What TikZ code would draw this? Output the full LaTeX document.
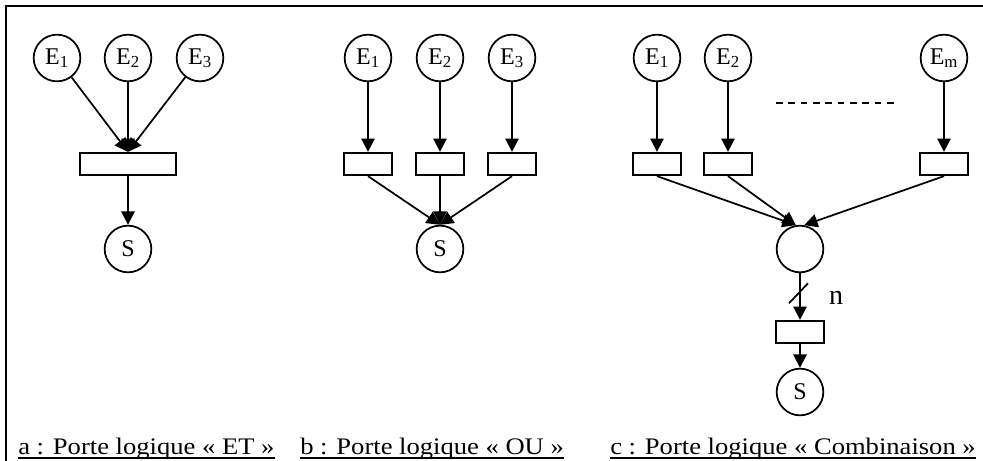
\documentclass[tikz,border=0pt]{standalone}
\usepackage{fontspec}
\setmainfont{Liberation Serif}
\newfontfamily\legende{Liberation Serif}[FakeStretch=1.12]
\usetikzlibrary{arrows.meta,calc}

\begin{document}
\begin{tikzpicture}[x=0.75pt,y=-0.75pt,
        etat/.style={draw,circle,line width=1.3pt,minimum size=35pt,inner sep=0pt,font=\fontsize{18}{21}\selectfont},
        porte/.style={draw,rectangle,line width=1.3pt,minimum width=35.6pt,minimum height=16.9pt,inner sep=0pt},
        portelarge/.style={porte,minimum width=72.4pt},
        fleche/.style={line width=1.3pt,-{Triangle[length=10pt,width=10pt]}},
        titre/.style={anchor=base west,inner sep=0pt,font=\legende\fontsize{17.8}{20}\selectfont}]
        \useasboundingbox (0,0) rectangle (983,461);
        \draw[line width=1.6pt] (6,461) -- (6,6) -- (983,6);
        % a : porte ET
        \node[etat] at (57,58) (a1) {E\textsubscript{1}};
        \node[etat] at (128,58) (a2) {E\textsubscript{2}};
        \node[etat] at (200,58) (a3) {E\textsubscript{3}};
        \node[portelarge] at (128,164) (et) {};
        \node[etat] at (128,249) (sa) {S};
        \draw[fleche] (a1) -- (et.north);
        \draw[fleche] (a2) -- (et.north);
        \draw[fleche] (a3) -- (et.north);
        \draw[fleche] (et) -- (sa);
        % b : porte OU
        \node[etat] at (368,58) (b1) {E\textsubscript{1}};
        \node[etat] at (440,58) (b2) {E\textsubscript{2}};
        \node[etat] at (512,58) (b3) {E\textsubscript{3}};
        \node[porte] at (368,164) (ou1) {};
        \node[porte] at (440,164) (ou2) {};
        \node[porte] at (512,164) (ou3) {};
        \node[etat] at (440,249) (sb) {S};
        \draw[fleche] (b1) -- (ou1);
        \draw[fleche] (b2) -- (ou2);
        \draw[fleche] (b3) -- (ou3);
        \draw[fleche] (ou1.south) -- (sb.north);
        \draw[fleche] (ou2) -- (sb);
        \draw[fleche] (ou3.south) -- (sb.north);
        % c : porte combinaison
        \node[etat] at (657,58) (c1) {E\textsubscript{1}};
        \node[etat] at (728,58) (c2) {E\textsubscript{2}};
        \node[etat] at (944,58) (cm) {E\textsubscript{m}};
        \coordinate (pt1) at (776,103);
        \coordinate (pt2) at (895,103);
        \draw[line width=1.3pt,dash pattern=on 4.9pt off 4.35pt] (pt1) -- (pt2);
        \node[porte] at (657,164) (co1) {};
        \node[porte] at (728,164) (co2) {};
        \node[porte] at (944,164) (com) {};
        \node[etat] at (800,249) (m) {};
        \node[porte] at (800,332) (g) {};
        \node[etat] at (800,392) (sc) {S};
        \draw[fleche] (c1) -- (co1);
        \draw[fleche] (c2) -- (co2);
        \draw[fleche] (cm) -- (com);
        \draw[fleche] (co1.south) -- (m.100);
        \draw[fleche] (co2.south) -- (m.100);
        \draw[fleche] (com.south) -- (m.80);
        \draw[fleche] (m) -- (g);
        \draw[line width=1.3pt] ($(m.south)!0.43!(g.north)$) ++(-11,10) -- ++(19,-20);
        \node[inner sep=0pt,font=\fontsize{21}{24}\selectfont] at (836,298) (n) {n};
        \draw[fleche] (g) -- (sc);
        % legendes
        \node[titre] at (18,454) (la) {a : Porte logique « ET »};
        \node[titre] at (300,454) (lb) {b : Porte logique « OU »};
        \node[titre] at (610,454) (lc) {c : Porte logique « Combinaison »};
        \draw[line width=1.3pt] ([yshift=-3pt]la.base west) -- ([yshift=-3pt]la.base east);
        \draw[line width=1.3pt] ([yshift=-3pt]lb.base west) -- ([yshift=-3pt]lb.base east);
        \draw[line width=1.3pt] ([yshift=-3pt]lc.base west) -- ([yshift=-3pt]lc.base east);
    \end{tikzpicture}
\end{document}
